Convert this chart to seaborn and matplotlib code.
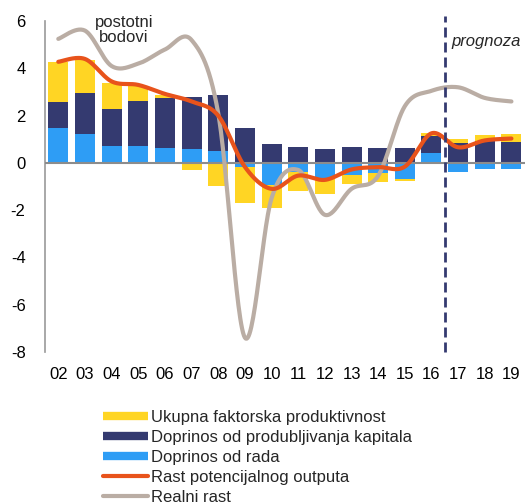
import numpy as np
import pandas as pd
import matplotlib
matplotlib.use("Agg")
import matplotlib.pyplot as plt
import seaborn as sns
from matplotlib.lines import Line2D

years = ['02', '03', '04', '05', '06', '07', '08', '09', '10',
         '11', '12', '13', '14', '15', '16', '17', '18', '19']

# contributions, percentage points
labour = [1.48, 1.24, 0.72, 0.71, 0.64, 0.58, 0.50, -0.17, -0.94,
          -0.38, -0.66, -0.52, -0.42, -0.70, 0.40, -0.38, -0.24, -0.24]
capital = [1.08, 1.70, 1.58, 1.92, 2.11, 2.19, 2.37, 1.46, 0.78,
           0.68, 0.59, 0.68, 0.61, 0.63, 0.73, 0.82, 0.92, 0.89]
tfp = [1.69, 1.41, 1.09, 0.62, 0.12, -0.31, -0.99, -1.52, -0.97,
       -0.81, -0.67, -0.38, -0.40, -0.06, 0.14, 0.18, 0.25, 0.35]
potential = [4.28, 4.40, 3.45, 3.30, 2.92, 2.60, 2.00, -0.17, -1.10,
             -0.54, -0.72, -0.28, -0.18, -0.16, 1.25, 0.66, 0.95, 1.03]
real_growth = [5.25, 5.60, 4.10, 4.20, 4.80, 5.20, 2.10, -7.40, -1.50,
               -0.30, -2.20, -1.10, -0.55, 2.40, 3.05, 3.20, 2.75, 2.60]

YELLOW = '#FFD524'
NAVY = '#343A70'
BLUE = '#2E9DF5'
ORANGE = '#E8531B'
GREY = '#BAADA4'


def smooth(y, n=30):
    # excel-like smoothed line (catmull-rom bezier) for drawing only
    y = np.asarray(y, dtype=float)
    x = np.arange(len(y), dtype=float)
    pts = np.column_stack([x, y])
    out = []
    for i in range(len(pts) - 1):
        p0 = pts[max(i - 1, 0)]
        p1 = pts[i]
        p2 = pts[i + 1]
        p3 = pts[min(i + 2, len(pts) - 1)]
        c1 = p1 + (p2 - p0) / 6
        c2 = p2 - (p3 - p1) / 6
        t = np.linspace(0, 1, n)[:, None]
        seg = ((1 - t) ** 3) * p1 + 3 * ((1 - t) ** 2) * t * c1 + 3 * (1 - t) * t ** 2 * c2 + t ** 3 * p2
        out.append(seg if i == 0 else seg[1:])
    out = np.vstack(out)
    return pd.DataFrame({'x': out[:, 0], 'y': out[:, 1]})


sns.set_style('white')
plt.rcParams['font.family'] = ['Liberation Sans', 'DejaVu Sans']
plt.rcParams['axes.unicode_minus'] = False

fig = plt.figure(figsize=(5.29, 5.04), dpi=100)
ax = fig.add_axes([0.085, 0.302, 0.907, 0.656])

pos = np.arange(len(years))
lab = np.array(labour)
cap = np.array(capital)
tf = np.array(tfp)

# excel-style stacking: positives on positives, negatives on negatives
pos_base = np.zeros(len(years))
neg_base = np.zeros(len(years))
for vals, col in [(lab, BLUE), (cap, NAVY), (tf, YELLOW)]:
    base = np.where(vals >= 0, pos_base, neg_base)
    ax.bar(pos, vals, width=0.75, bottom=base, color=col, edgecolor='none', zorder=2)
    pos_base = pos_base + np.where(vals >= 0, vals, 0)
    neg_base = neg_base + np.where(vals < 0, vals, 0)

ax.axhline(0, color='#8C8C8C', lw=1.5, zorder=3)

sns.lineplot(data=smooth(real_growth), x='x', y='y', color=GREY, lw=3,
             sort=False, ax=ax, zorder=4, solid_capstyle='round')
sns.lineplot(data=smooth(potential), x='x', y='y', color=ORANGE, lw=3,
             sort=False, ax=ax, zorder=5, solid_capstyle='round')

# forecast divider between 16 and 17
ax.plot([14.5, 14.5], [-8, 6.2], color=NAVY, lw=2, dashes=(3.6, 1.8),
        clip_on=False, zorder=6)

ax.set_xlim(-0.5, 17.5)
ax.set_ylim(-8, 6)
ax.set_yticks(range(-8, 7, 2))
ax.set_xticks(pos)
ax.set_xticklabels(years)
ax.set_xlabel('')
ax.set_ylabel('')
ax.tick_params(axis='both', length=0, labelsize=12, colors='black')
ax.tick_params(axis='x', pad=11)
ax.tick_params(axis='y', pad=14)
for s in ['top', 'right', 'bottom']:
    ax.spines[s].set_visible(False)
ax.spines['left'].set_color('#999999')
ax.spines['left'].set_linewidth(1.2)
ax.grid(False)

ax.text(2.47, 5.62, 'postotni\nbodovi', ha='center', va='center', fontsize=12,
        linespacing=1.05)
ax.text(14.76, 5.15, 'prognoza', ha='left', va='center', fontsize=12,
        style='italic', clip_on=False)

handles = [
    Line2D([], [], color=YELLOW, lw=6, solid_capstyle='butt'),
    Line2D([], [], color=NAVY, lw=6, solid_capstyle='butt'),
    Line2D([], [], color=BLUE, lw=6, solid_capstyle='butt'),
    Line2D([], [], color=ORANGE, lw=3, solid_capstyle='round'),
    Line2D([], [], color=GREY, lw=3, solid_capstyle='round'),
]
labels = ['Ukupna faktorska produktivnost', 'Doprinos od produbljivanja kapitala',
          'Doprinos od rada', 'Rast potencijalnog outputa', 'Realni rast']
fig.legend(handles, labels, loc='upper left', bbox_to_anchor=(0.194, 0.186),
           frameon=False, fontsize=12, handlelength=2.7, handletextpad=0.2,
           labelspacing=0.3, borderaxespad=0, borderpad=0)

fig.savefig('out.png', dpi=100)
